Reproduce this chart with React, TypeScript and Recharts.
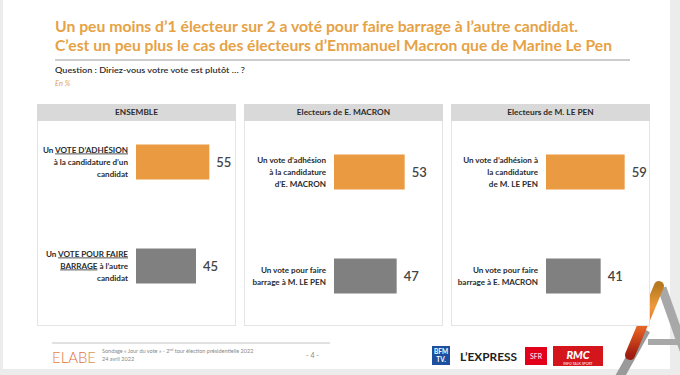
import { BarChart, Bar, XAxis, YAxis, Cell, LabelList } from 'recharts'

const barKinds = ['adhesion', 'barrage']
const barColors = ['#EA9A40', '#808080']

const panelTitles = ['ENSEMBLE', 'Electeurs de E. MACRON', 'Electeurs de M. LE PEN']

const ensembleValues = [55, 45]
const macronValues = [53, 47]
const lepenValues = [59, 41]

// words in [brackets] are underlined
const ensembleLabels = [
  ['Un [VOTE D’ADHÉSION]', 'à la candidature d’un', 'candidat'],
  ['Un [VOTE POUR FAIRE]', '[BARRAGE] à l’autre', 'candidat'],
]
const macronLabels = [
  ['Un vote d’adhésion', 'à la candidature', 'd’E. MACRON'],
  ['Un vote pour faire', 'barrage à M. LE PEN'],
]
const lepenLabels = [
  ['Un vote d’adhésion à', 'la candidature', 'de M. LE PEN'],
  ['Un vote pour faire', 'barrage à E. MACRON'],
]

const titleLines = [
  'Un peu moins d’1 électeur sur 2 a voté pour faire barrage à l’autre candidat.',
  'C’est un peu plus le cas des électeurs d’Emmanuel Macron que de Marine Le Pen',
]

const FONT = 'Lato, "Open Sans", sans-serif'

const makeRows = (values: number[]) => barKinds.map((kind, i) => ({ kind, value: values[i] }))

function LabelTick(props: any) {
  const { x, y, payload, lines } = props
  const idx = props.index ?? payload?.index ?? 0
  const rows: string[] = lines[idx] ?? []
  const lh = 12
  const y0 = y - ((rows.length - 1) * lh) / 2 + 3
  return (
    <text x={x} y={y0} textAnchor="end" fontSize={8.1} fontWeight={700} fill="#2b2b2b" fontFamily={FONT}>
      {rows.map((row, i) => (
        <tspan key={i} x={x} y={y0 + i * lh}>
          {row
            .split(/(\[[^\]]*\])/)
            .filter(Boolean)
            .map((seg, j) =>
              seg.startsWith('[') ? (
                <tspan key={j} textDecoration="underline">
                  {seg.slice(1, -1)}
                </tspan>
              ) : (
                seg
              )
            )}
        </tspan>
      ))}
    </text>
  )
}

interface PanelProps {
  left: number
  title: string
  values: number[]
  labels: string[][]
  yWidth: number
  right: number
  top: number
}

function Panel({ left, title, values, labels, yWidth, right, top }: PanelProps) {
  const rows = makeRows(values)
  return (
    <div
      style={{
        position: 'absolute',
        left,
        top: 104,
        width: 199,
        height: 222,
        background: '#fff',
        border: '1px solid #e4e4e4',
        boxSizing: 'border-box',
      }}
    >
      <div style={{ position: 'absolute', left: -1, top: -1 }}>
        <BarChart
          width={199}
          height={224}
          data={rows}
          layout="vertical"
          margin={{ top, right, bottom: 224 - top - 208, left: 0 }}
          barCategoryGap={0}
        >
          <XAxis type="number" domain={[0, 75]} hide />
          <YAxis
            type="category"
            dataKey="kind"
            width={yWidth}
            axisLine={false}
            tickLine={false}
            tickSize={0}
            tickMargin={8}
            interval={0}
            tick={(p: any) => <LabelTick {...p} lines={labels} />}
          />
          <Bar dataKey="value" barSize={35} isAnimationActive={false}>
            {rows.map((r, i) => (
              <Cell key={r.kind} fill={barColors[i]} />
            ))}
            <LabelList
              dataKey="value"
              position="right"
              offset={7}
              fill="#444"
              fontSize={13}
              fontWeight={600}
              fontFamily={FONT}
            />
          </Bar>
        </BarChart>
      </div>
      <div
        style={{
          position: 'absolute',
          left: -1,
          top: -1,
          width: 199,
          height: 17,
          background: '#d9d9d9',
          color: '#2b2b2b',
          fontFamily: FONT,
          fontWeight: 700,
          fontSize: 8.3,
          lineHeight: '17px',
          textAlign: 'center',
        }}
      >
        {title}
      </div>
    </div>
  )
}

export default function App() {
  return (
    <div
      style={{
        position: 'absolute',
        left: 0,
        top: 0,
        width: 680,
        height: 375,
        background: '#ececec',
        overflow: 'hidden',
        fontFamily: FONT,
      }}
    >
      <div style={{ position: 'absolute', left: 3, top: 0, width: 667, height: 369, background: '#fff' }} />

      <svg width={680} height={375} style={{ position: 'absolute', left: 0, top: 0 }}>
        <text x={55} y={31.5} fontSize={15.5} fontWeight={700} fill="#E6A245" fontFamily={FONT} textLength={523} lengthAdjust="spacingAndGlyphs">
          {titleLines[0]}
        </text>
        <text x={55} y={50.5} fontSize={15.5} fontWeight={700} fill="#E6A245" fontFamily={FONT} textLength={557} lengthAdjust="spacingAndGlyphs">
          {titleLines[1]}
        </text>
        <line x1={55} x2={630} y1={60} y2={60} stroke="#bdbdbd" strokeWidth={1.5} />
        <text x={55} y={73} fontSize={8} fontWeight={600} fill="#2b2b2b" fontFamily={FONT} textLength={190} lengthAdjust="spacingAndGlyphs">
          Question : Diriez-vous votre vote est plutôt … ?
        </text>
        <text x={55} y={86} fontSize={7.5} fontStyle="italic" fill="#E6A245" fontFamily={FONT}>
          En %
        </text>

        {/* footer */}
        <line x1={52} x2={330} y1={343} y2={343} stroke="#c4c4c4" strokeWidth={1} />
        <defs>
          <linearGradient id="elabe" x1="0" x2="1" y1="0" y2="0">
            <stop offset="0" stopColor="#e88a3a" />
            <stop offset="0.5" stopColor="#e0603a" />
            <stop offset="1" stopColor="#d9a050" />
          </linearGradient>
          <linearGradient id="stroke" x1="0" x2="0" y1="0" y2="1">
            <stop offset="0" stopColor="#b87a20" />
            <stop offset="0.3" stopColor="#ef9a3a" />
            <stop offset="0.65" stopColor="#e05a20" />
            <stop offset="1" stopColor="#a01c10" />
          </linearGradient>
        </defs>
        <text x={52} y={363} fontSize={16} fontWeight={300} fill="url(#elabe)" fontFamily={FONT} textLength={44} lengthAdjust="spacingAndGlyphs">
          ELABE
        </text>
        <text x={102} y={353} fontSize={5.5} fill="#888" fontFamily={FONT}>
          Sondage « Jour du vote » - 2<tspan fontSize={3.5} dy={-2}>nd</tspan>
          <tspan dy={2}> tour élection présidentielle 2022</tspan>
        </text>
        <text x={102} y={361} fontSize={5.5} fill="#888" fontFamily={FONT}>
          24 avril 2022
        </text>
        <text x={306} y={358} fontSize={7} fill="#888" fontFamily={FONT}>
          - 4 -
        </text>

        <rect x={432} y={346} width={18} height={19} fill="#1e4f9e" />
        <text x={441} y={354} fontSize={6.5} fontWeight={700} fill="#fff" textAnchor="middle" fontFamily={FONT}>
          BFM
        </text>
        <text x={441} y={362} fontSize={6.5} fontWeight={700} fill="#fff" textAnchor="middle" fontFamily={FONT}>
          TV.
        </text>
        <text x={460} y={361} fontSize={12} fontWeight={700} fill="#222" fontFamily={FONT} textLength={57} lengthAdjust="spacingAndGlyphs">
          L’EXPRESS
        </text>
        <rect x={525} y={347} width={22} height={18} fill="#e2001a" />
        <text x={536} y={359} fontSize={7} fill="#fff" textAnchor="middle" fontFamily={FONT}>
          SFR
        </text>
        <rect x={553} y={346} width={50} height={20} fill="#d4161c" />
        <text x={578} y={359} fontSize={11} fontWeight={900} fontStyle="italic" fill="#fff" textAnchor="middle" fontFamily={FONT}>
          RMC
        </text>
        <text x={578} y={364.5} fontSize={3.5} fill="#fff" textAnchor="middle" fontFamily={FONT}>
          INFO TALK SPORT
        </text>

        {/* corner logo */}
        <line x1={662} y1={288} x2={684} y2={350} stroke="#a8a8a8" strokeWidth={9} />
        <line x1={648} y1={342} x2={680} y2={342} stroke="#a8a8a8" strokeWidth={6} />
        <line x1={646} y1={330} x2={618} y2={380} stroke="#9a9a9a" strokeWidth={9} />
        <line x1={659} y1={286} x2={630} y2={355} stroke="url(#stroke)" strokeWidth={10} strokeLinecap="round" />
      </svg>

      <Panel left={37} title={panelTitles[0]} values={ensembleValues} labels={ensembleLabels} yWidth={99} right={0} top={5.5} />
      <Panel left={244} title={panelTitles[1]} values={macronValues} labels={macronLabels} yWidth={90} right={9} top={15.5} />
      <Panel left={451} title={panelTitles[2]} values={lepenValues} labels={lepenLabels} yWidth={95} right={4} top={15.5} />
    </div>
  )
}
